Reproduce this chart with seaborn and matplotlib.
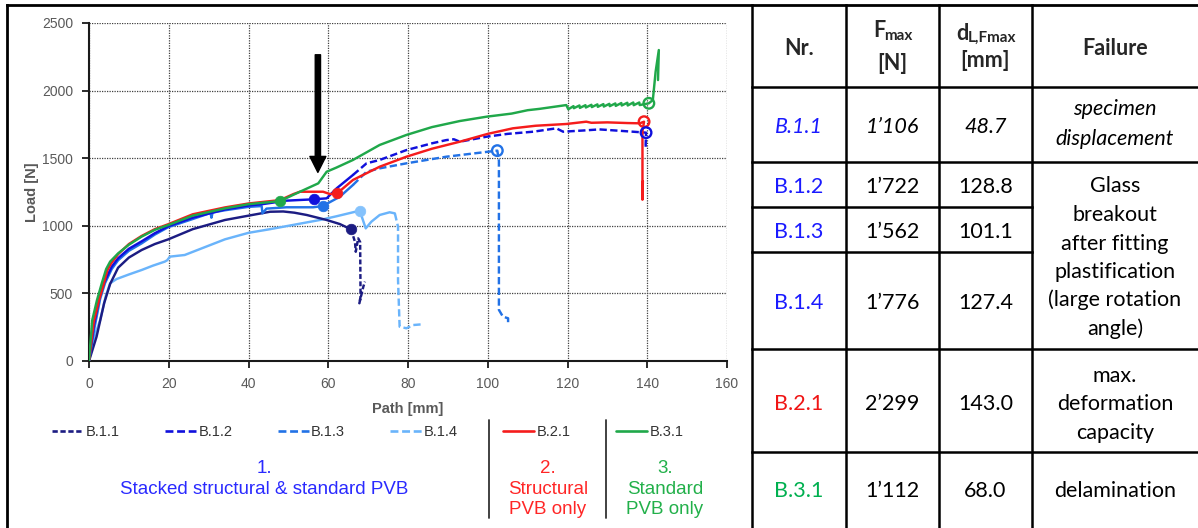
import matplotlib
matplotlib.use("Agg")
import numpy as np
import pandas as pd
import matplotlib.pyplot as plt
import seaborn as sns
from matplotlib.lines import Line2D

# ---------------- data ----------------
series_names = ["B.1.1", "B.1.2", "B.1.3", "B.1.4", "B.2.1", "B.3.1"]

b11_x = [0, 1.9, 3.8, 5.3, 7.3, 10, 13.2, 16.5, 19.9, 26, 34.1, 40, 45.4, 48.7, 51.5, 54.6,
         59.6, 62.9, 65.7, 66.7, 66.9, 67.5, 68.0, 68.1, 67.8, 68.8, 69.2]
b11_y = [0, 180, 428, 570, 690, 765, 821, 865, 900, 975, 1043, 1075, 1104, 1106, 1097, 1080,
         1043, 1013, 974, 882, 808, 907, 880, 476, 427, 550, 587]

b12_x = [0, 1.2, 2.6, 3.8, 5.7, 7.3, 10, 13.2, 16.5, 19.9, 26, 34.1, 40, 43.7, 49.5, 56.4,
         59.6, 62.1, 66.2, 69.6, 72.9, 79.6, 86, 89.6, 91.5, 93, 99.7, 105, 111.4, 117.2,
         118.9, 124, 128, 132, 136.4, 139.7, 139.6, 139.7]
b12_y = [0, 260, 470, 580, 698, 760, 830, 885, 945, 997, 1060, 1121, 1150, 1161, 1186, 1196,
         1203, 1277, 1376, 1462, 1487, 1560, 1610, 1634, 1640, 1622, 1659, 1680, 1696, 1721,
         1696, 1705, 1713, 1705, 1696, 1689, 1600, 1560]

b13_x = [0, 1.4, 2.8, 4.0, 5.7, 7.3, 10, 13.2, 16.5, 19.9, 26, 30.5, 30.7, 31, 34.1, 40,
         43.3, 43.5, 44.5, 49.5, 56.2, 58.6, 62.9, 66.2, 69.6, 72.9, 79.6, 89.6, 95, 102.4,
         102.8, 102.8, 103.8, 105.1, 105.1]
b13_y = [0, 250, 460, 575, 680, 745, 815, 870, 935, 990, 1050, 1095, 1060, 1098, 1115, 1140,
         1146, 1092, 1127, 1137, 1137, 1146, 1215, 1302, 1400, 1425, 1462, 1511, 1530, 1556,
         1480, 378, 328, 316, 280]

b14_x = [0, 1.0, 2.8, 4.2, 5.3, 6.9, 10, 13.2, 16, 19.0, 19.6, 20.3, 24, 28, 34.1, 40, 45.4,
         50, 57.9, 62, 67.9, 69.4, 70.8, 72.9, 75.4, 76.7, 77.5, 77.5, 77.9, 79.6, 81.3, 83.4]
b14_y = [0, 150, 303, 480, 575, 606, 640, 673, 705, 735, 745, 772, 784, 830, 900, 948, 975,
         1000, 1043, 1070, 1112, 981, 1030, 1080, 1100, 1092, 993, 599, 254, 242, 266, 271]

b21_x = [0, 1.2, 2.5, 3.6, 4.6, 5.5, 7.3, 10, 13.2, 16.5, 19.9, 26, 34.1, 40, 47.9, 51.3, 52.9,
         58.7, 60.4, 62.2, 63.7, 66.2, 72.9, 79.6, 86, 93, 100, 106.3, 112, 119.7, 124.7, 126,
         130, 135, 138.1, 139.2, 138.8, 138.8, 138.9]
b21_y = [0, 290, 450, 560, 670, 720, 790, 865, 925, 975, 1012, 1085, 1136, 1165, 1190, 1235, 1252,
         1252, 1235, 1240, 1277, 1339, 1437, 1511, 1570, 1622, 1680, 1721, 1740, 1753, 1770, 1762,
         1765, 1760, 1758, 1770, 1700, 1193, 1330]

b31_x = [0, 0.8, 2.0, 3.2, 4.3, 5.3, 7.3, 10, 13.2, 16.5, 19.9, 26, 34.1, 40, 47.9, 52.9, 57.5,
         59.6, 62, 66.2, 72.9, 79.6, 86, 93, 99.7, 106, 110, 113, 119.7, 120.2,
         121.5, 121.6, 123.0, 123.1, 124.5, 124.6, 126.0, 126.1, 127.5, 127.6, 129.0, 129.1,
         130.5, 130.6, 132.0, 132.1, 133.5, 133.6, 135.0, 135.1, 136.5, 136.6, 138.0, 138.1,
         140.4, 141.4, 142.1, 142.9, 142.7]
b31_y = [0, 300, 450, 574, 680, 735, 796, 860, 920, 970, 1006, 1075, 1129, 1160, 1183, 1252, 1314,
         1400, 1430, 1487, 1598, 1672, 1730, 1775, 1807, 1830, 1855, 1865, 1893, 1862,
         1885, 1870, 1890, 1872, 1892, 1875, 1895, 1878, 1898, 1880, 1900, 1882,
         1902, 1885, 1905, 1887, 1908, 1890, 1910, 1890, 1912, 1892, 1912, 1893,
         1906, 1930, 2140, 2300, 2078]

# filled markers (onset) and open markers (peak)
filled_names = ["B.3.1", "B.1.2", "B.1.3", "B.2.1", "B.1.1", "B.1.4"]
filled_x = [47.9, 56.4, 58.6, 62.2, 65.7, 67.9]
filled_y = [1183, 1196, 1146, 1240, 974, 1112]
open_names = ["B.3.1", "B.2.1", "B.1.2", "B.1.3"]
open_x = [140.4, 139.2, 139.7, 102.4]
open_y = [1906, 1770, 1689, 1556]

x_ticks = [0, 20, 40, 60, 80, 100, 120, 140, 160]
y_ticks = [0, 500, 1000, 1500, 2000, 2500]

group_labels = [["1.", "Stacked structural & standard PVB"],
                ["2.", "Structural", "PVB only"],
                ["3.", "Standard", "PVB only"]]

tbl_header = ["Nr.", "Failure"]
tbl_nr = ["B.1.1", "B.1.2", "B.1.3", "B.1.4", "B.2.1", "B.3.1"]
tbl_fmax = ["1\u2019106", "1\u2019722", "1\u2019562", "1\u2019776", "2\u2019299", "1\u2019112"]
tbl_d = ["48.7", "128.8", "101.1", "127.4", "143.0", "68.0"]
tbl_failure = [["specimen", "displacement"],
               ["Glass", "breakout", "after fitting", "plastification", "(large rotation", "angle)"],
               ["max.", "deformation", "capacity"],
               ["delamination"]]

# ---------------- style ----------------
COLORS = {"B.1.1": "#1c1c82", "B.1.2": "#1010dc", "B.1.3": "#2272e6", "B.1.4": "#6ab4fb",
          "B.2.1": "#f51c1c", "B.3.1": "#20a84a"}
MARKER_COLORS = dict(COLORS, **{"B.1.4": "#85c2fc"})
DASH = {"B.1.1": (0, (2, 1)), "B.1.2": (0, (3, 1.4)), "B.1.3": (0, (3, 1.4)),
        "B.1.4": (0, (3, 1.4)), "B.2.1": "-", "B.3.1": "-"}
DASH_FROM = {"B.1.1": 65.7, "B.1.2": 66.2, "B.1.3": 66.2, "B.1.4": 76.7}
TEXT_GRAY = "#595959"
W, H = 1198, 528


def fx(px):
    return px / W


def fy(py):
    return 1 - py / H


sns.set_theme(style="white")
plt.rcParams['font.family'] = ['Liberation Sans', 'DejaVu Sans']
TF = ['Lato', 'DejaVu Sans']

fig = plt.figure(figsize=(W / 100, H / 100), dpi=100)
fig.patch.set_facecolor("white")
ax = fig.add_axes([fx(89), fy(361), 638 / W, 338 / H])

data = {"B.1.1": (b11_x, b11_y), "B.1.2": (b12_x, b12_y), "B.1.3": (b13_x, b13_y),
        "B.1.4": (b14_x, b14_y), "B.2.1": (b21_x, b21_y), "B.3.1": (b31_x, b31_y)}

draw_order = ["B.1.4", "B.1.1", "B.1.3", "B.1.2", "B.2.1", "B.3.1"]
for name in draw_order:
    xs, ys = data[name]
    df = pd.DataFrame({"x": xs, "y": ys})
    split = DASH_FROM.get(name)
    if split is None:
        parts = [(df, "-")]
    else:
        i = int(np.argmax(df["x"].values >= split))
        parts = [(df.iloc[:i + 1], "-"), (df.iloc[i:], DASH[name])]
    for part, ls in parts:
        sns.lineplot(data=part, x="x", y="y", sort=False, estimator=None,
                     color=COLORS[name], linewidth=1.75, linestyle=ls, ax=ax, zorder=3)

# filled markers
for n, x, y in zip(filled_names, filled_x, filled_y):
    sns.scatterplot(x=[x], y=[y], color=MARKER_COLORS[n], s=58, edgecolor=MARKER_COLORS[n],
                    linewidth=0.5, ax=ax, zorder=5, legend=False)
# open markers
for n, x, y in zip(open_names, open_x, open_y):
    sns.scatterplot(x=[x], y=[y], facecolors="none", edgecolor=COLORS[n], s=58,
                    linewidth=1.7, ax=ax, zorder=5, legend=False)

# arrow
ax.annotate("", xy=(57.4, 1395), xytext=(57.4, 2265),
            arrowprops=dict(facecolor="black", edgecolor="black", width=3.8,
                            headwidth=11.5, headlength=11.5, shrink=0), zorder=6)

ax.set_xlim(0, 160)
ax.set_ylim(0, 2500)
ax.set_xticks(x_ticks)
ax.set_yticks(y_ticks)
ax.set_axisbelow(True)
ax.grid(True, color="#404040", linestyle=(0, (1, 1)), linewidth=0.9)
for s in ["top", "right"]:
    ax.spines[s].set_visible(False)
for s in ["left", "bottom"]:
    ax.spines[s].set_color("#1a1a1a")
    ax.spines[s].set_linewidth(1.5)
ax.tick_params(axis="both", which="major", direction="out", length=5, width=1.3,
               color="#1a1a1a", labelsize=10, labelcolor=TEXT_GRAY, pad=6.5,
               left=True, bottom=True)
ax.set_xlabel("Path [mm]", fontsize=10.5, fontweight="bold", color=TEXT_GRAY)
ax.xaxis.set_label_coords(0.5, -0.122)
ax.set_ylabel("Load [N]", fontsize=10.5, fontweight="bold", color=TEXT_GRAY)
ax.yaxis.set_label_coords(-0.078, 0.5)

# legend
handles = [Line2D([], [], color=COLORS[n], lw=1.9, linestyle=DASH[n]) for n in series_names]
fig.legend(handles, series_names, loc="center left", bbox_to_anchor=(fx(52), fy(432)),
           ncol=6, frameon=False, fontsize=10.5, handlelength=2.15, handletextpad=0.15,
           columnspacing=3.1, borderpad=0, borderaxespad=0, labelcolor="#333333")

# separators in legend zone
for sx in [489, 606]:
    fig.add_artist(Line2D([fx(sx)] * 2, [fy(420), fy(518)], color="#333333", lw=1.3,
                          transform=fig.transFigure))

# group labels
group_cx = [264, 548, 665]
group_colors = ["#2a2aff", "#ff2626", "#22b04a"]
line_base = [473, 494, 514]
for cx, lines, col in zip(group_cx, group_labels, group_colors):
    for k, t in enumerate(lines):
        fig.text(fx(cx), fy(line_base[k]), t, ha="center", va="baseline", color=col,
                 fontsize=13.5)

# frame round the chart panel
FR = dict(color="black", lw=2.0, transform=fig.transFigure, solid_capstyle="projecting")
fig.add_artist(Line2D([fx(7), fx(7)], [fy(5), fy(528)], **FR))
fig.add_artist(Line2D([fx(7), fx(1198)], [fy(5), fy(5)], **FR))

# ---------------- table ----------------
TL = dict(color="black", lw=1.8, transform=fig.transFigure, solid_capstyle="projecting")
for vx in [752, 846, 939, 1032]:
    fig.add_artist(Line2D([fx(vx)] * 2, [fy(5), fy(528)], **TL))
for hy in [87, 162, 349, 452]:
    fig.add_artist(Line2D([fx(752), fx(1198)], [fy(hy)] * 2, **TL))
for hy in [207, 252]:
    fig.add_artist(Line2D([fx(752), fx(1032)], [fy(hy)] * 2, **TL))

col_cx = [799, 892.5, 985.5, 1115]
TS = 15.5
# header
fig.text(fx(col_cx[0]), fy(55), tbl_header[0], ha="center", va="baseline", fontsize=TS,
         fontweight="bold", family=TF)
fig.text(fx(col_cx[3]), fy(55), tbl_header[1], ha="center", va="baseline", fontsize=TS,
         fontweight="bold", family=TF)
fig.text(fx(873.5), fy(37), "F", ha="left", va="baseline", fontsize=TS, fontweight="bold", family=TF)
fig.text(fx(884.5), fy(39.5), "max", ha="left", va="baseline", fontsize=11, fontweight="bold", family=TF)
fig.text(fx(col_cx[1]), fy(70), "[N]", ha="center", va="baseline", fontsize=TS,
         fontweight="bold", family=TF)
fig.text(fx(956), fy(40), "d", ha="left", va="baseline", fontsize=TS, fontweight="bold", family=TF)
fig.text(fx(968), fy(42), "L,Fmax", ha="left", va="baseline", fontsize=11, fontweight="bold", family=TF)
fig.text(fx(col_cx[2]), fy(67), "[mm]", ha="center", va="baseline", fontsize=TS,
         fontweight="bold", family=TF)

row_base = [132.7, 192.7, 237.7, 309.3, 410, 496.7]
nr_colors = ["#1a1aff", "#1a1aff", "#1a1aff", "#1a1aff", "#f01515", "#00b050"]
for i in range(len(tbl_nr)):
    style = "italic" if i == 0 else "normal"
    fig.text(fx(col_cx[0]), fy(row_base[i]), tbl_nr[i], ha="center", va="baseline",
             fontsize=TS, color=nr_colors[i], style=style, family=TF)
    fig.text(fx(col_cx[1]), fy(row_base[i]), tbl_fmax[i], ha="center", va="baseline",
             fontsize=TS, color="black", style=style, family=TF)
    fig.text(fx(col_cx[2]), fy(row_base[i]), tbl_d[i], ha="center", va="baseline",
             fontsize=TS, color="black", style=style, family=TF)

fail_base = [[115, 145], [192.5, 221, 249.5, 278, 306.5, 335], [382, 410.5, 439], [496.7]]
for k, (lines, bases) in enumerate(zip(tbl_failure, fail_base)):
    style = "italic" if k == 0 else "normal"
    for t, b in zip(lines, bases):
        fig.text(fx(col_cx[3]), fy(b), t, ha="center", va="baseline", fontsize=TS,
                 color="black", style=style, family=TF)

fig.savefig("out.png", dpi=100, facecolor="white")
